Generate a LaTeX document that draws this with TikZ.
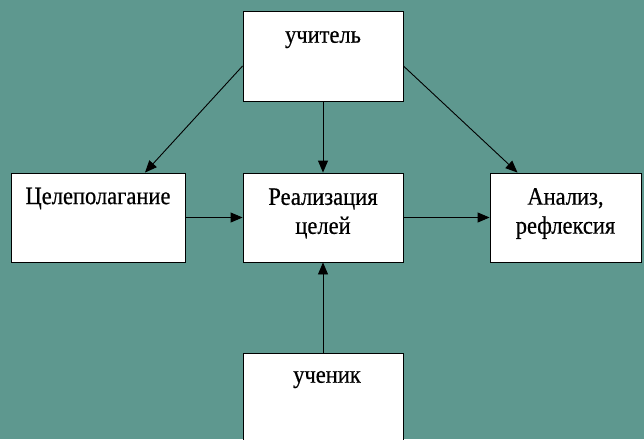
\documentclass[tikz,border=0pt]{standalone}
\usepackage{fontspec}
\setmainfont[FakeStretch=0.9,FakeBold=0.5]{Liberation Serif}
\usetikzlibrary{arrows.meta}
\definecolor{MyTeal}{RGB}{94,152,143}
\tikzset{
  box/.style={draw=black, fill=white, line width=0.9pt, inner sep=0pt, minimum width=160pt, minimum height=90pt},
  lbl/.style={font=\fontsize{25}{29}\selectfont, align=center, inner sep=0pt},
  arr/.style={line width=0.9pt, -{Triangle[length=12pt,width=10pt]}}
}

\begin{document}
\begin{tikzpicture}[x=1pt,y=-1pt]
  \fill[MyTeal] (0,0) rectangle (644,439);
  \useasboundingbox (0,0) rectangle (644,439);
  \clip (0,0) rectangle (644,439);

% Boxes
  \node[box] (teacher) at (323,56) {};
  \node[box, minimum width=174pt, minimum height=89pt] (goal) at (98,217.5) {};
  \node[box, minimum height=89pt] (real) at (323,217.5) {};
  \node[box, minimum width=151pt, minimum height=89pt] (anal) at (565.5,217.5) {};
  \node[box] (pupil) at (323,398) {};

% Texts
  \node[lbl] (teacherT) at ([yshift=-29pt]teacher.north) {учитель};
  \node[lbl] (goalT) at ([yshift=-26pt]goal.north) {Целеполагание};
  \node[lbl] (realT) at ([yshift=-41pt]real.north) {Реализация\\целей};
  \node[lbl] (analT) at ([yshift=-41pt]anal.north) {Анализ,\\рефлексия};
  \node[lbl] (pupilT) at ([xshift=4pt,yshift=-27pt]pupil.north) {ученик};

% Arrows
  \draw[arr] ([yshift=-10pt]teacher.west) -- ([xshift=47pt]goal.north);
  \draw[arr] (teacher.south) -- (real.north);
  \draw[arr] ([yshift=-10pt]teacher.east) -- ([xshift=-48pt]anal.north);
  \draw[arr] (goal.east) -- (real.west);
  \draw[arr] (real.east) -- (anal.west);
  \draw[arr] (pupil.north) -- (real.south);
\end{tikzpicture}
\end{document}
